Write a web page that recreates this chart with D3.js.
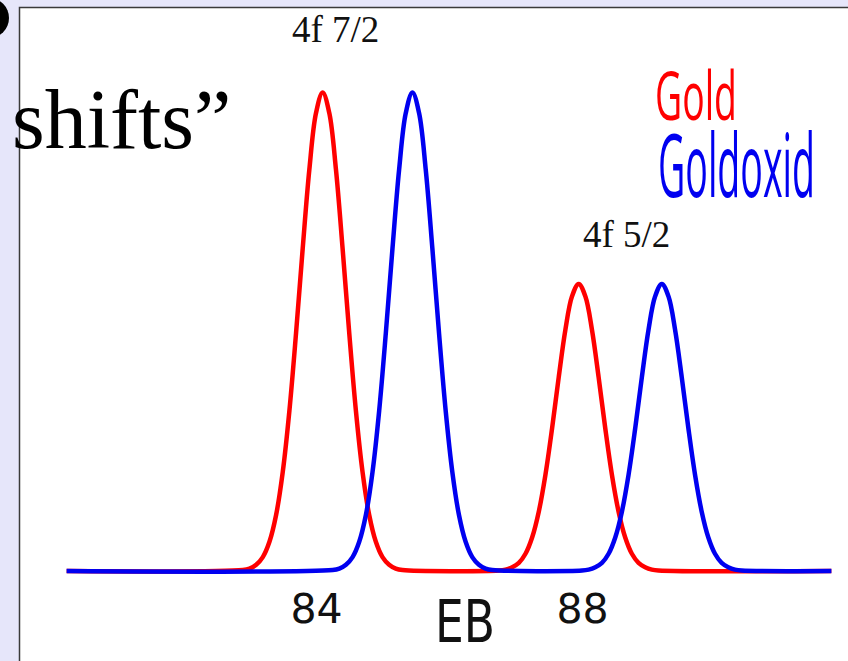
<!DOCTYPE html>
<html>
<head>
<meta charset="utf-8">
<script src="https://cdn.jsdelivr.net/npm/d3@7"></script>
<style>
  html, body { margin: 0; padding: 0; background: #e6e6fa; }
  svg { display: block; }
</style>
</head>
<body>
<svg id="chart" width="848" height="661"></svg>
<script>
// Binding energy (eV) sample points and intensities for each spectrum
const goldE = [80.25,
  82.9, 83.0, 83.1, 83.2, 83.3, 83.4, 83.5, 83.6, 83.7, 83.8, 83.9, 84.0, 84.1,
  84.2, 84.3, 84.4, 84.5, 84.6, 84.7, 84.8, 84.9, 85.0, 85.1, 85.2, 85.3,
  86.75, 86.85, 86.95, 87.05, 87.15, 87.25, 87.35, 87.45, 87.55, 87.65, 87.75, 87.85, 87.95,
  88.05, 88.15, 88.25, 88.35, 88.45, 88.55, 88.65, 88.75, 88.85, 88.95, 89.05, 89.15,
  91.75];
const goldI = [0,
  0.2, 0.5, 1.3, 2.9, 6.1, 11.7, 20.7, 33.5, 49.7, 67.4, 83.9, 95.7, 100,
  95.7, 83.9, 67.4, 49.7, 33.5, 20.7, 11.7, 6.1, 2.9, 1.3, 0.5, 0.2,
  0.1, 0.3, 0.8, 1.7, 3.6, 7.0, 12.4, 20.1, 29.8, 40.5, 50.4, 57.4, 60,
  57.4, 50.4, 40.5, 29.8, 20.1, 12.4, 7.0, 3.6, 1.7, 0.8, 0.3, 0.1,
  0];

const oxideE = [80.25,
  84.25, 84.35, 84.45, 84.55, 84.65, 84.75, 84.85, 84.95, 85.05, 85.15, 85.25, 85.35, 85.45,
  85.55, 85.65, 85.75, 85.85, 85.95, 86.05, 86.15, 86.25, 86.35, 86.45, 86.55, 86.65,
  88.0, 88.1, 88.2, 88.3, 88.4, 88.5, 88.6, 88.7, 88.8, 88.9, 89.0, 89.1, 89.2,
  89.3, 89.4, 89.5, 89.6, 89.7, 89.8, 89.9, 90.0, 90.1, 90.2, 90.3, 90.4,
  91.75];
const oxideI = [0,
  0.2, 0.5, 1.3, 2.9, 6.1, 11.7, 20.7, 33.5, 49.7, 67.4, 83.9, 95.7, 100,
  95.7, 83.9, 67.4, 49.7, 33.5, 20.7, 11.7, 6.1, 2.9, 1.3, 0.5, 0.2,
  0.1, 0.3, 0.8, 1.7, 3.6, 7.0, 12.4, 20.1, 29.8, 40.5, 50.4, 57.4, 60,
  57.4, 50.4, 40.5, 29.8, 20.1, 12.4, 7.0, 3.6, 1.7, 0.8, 0.3, 0.1,
  0];

const seriesNames = ["Gold", "Goldoxid"];
const seriesColors = ["#ff0000", "#0000f0"];
const tickValues = [84, 88];
const axisTitle = "EB";
const peakLabels = ["4f 7/2", "4f 5/2"];

const svg = d3.select("#chart");

// slide decoration: bullet dot and white content panel
svg.append("circle").attr("cx", -11).attr("cy", 18).attr("r", 20).attr("fill", "#000");
svg.append("rect")
  .attr("x", 19.5).attr("y", 7.5).attr("width", 900).attr("height", 700)
  .attr("fill", "#fff").attr("stroke", "#3a3a3a").attr("stroke-width", 1.5);

const x = d3.scaleLinear().domain([84, 88]).range([316, 582]);
const y = d3.scaleLinear().domain([0, 100]).range([571, 92.5]);

const line = d3.line()
  .x(d => x(d[0]))
  .y(d => y(d[1]))
  .curve(d3.curveCatmullRom.alpha(0.5));

const series = [
  { name: seriesNames[0], color: seriesColors[0], pts: d3.zip(goldE, goldI) },
  { name: seriesNames[1], color: seriesColors[1], pts: d3.zip(oxideE, oxideI) }
];

svg.selectAll("path.spec")
  .data(series)
  .join("path")
  .attr("class", "spec")
  .attr("d", d => line(d.pts))
  .attr("fill", "none")
  .attr("stroke", d => d.color)
  .attr("stroke-width", 4.5)
  .attr("stroke-linejoin", "round");

// energy axis: tick labels only
const axis = svg.append("g")
  .attr("transform", "translate(0,571)")
  .call(d3.axisBottom(x).tickValues(tickValues).tickSize(0).tickFormat(d3.format("d")));
axis.select(".domain").remove();
axis.selectAll(".tick text")
  .attr("y", 0).attr("dy", 0)
  .attr("transform", "translate(0,52)")
  .attr("font-family", "DejaVu Sans, sans-serif")
  .attr("font-size", 41)
  .attr("fill", "#111");

svg.append("text")
  .attr("x", 435).attr("y", 642)
  .attr("font-family", "DejaVu Sans, sans-serif")
  .attr("font-size", 58)
  .attr("textLength", 60).attr("lengthAdjust", "spacingAndGlyphs")
  .attr("fill", "#111")
  .text(axisTitle);

// peak annotations
const serif = "Liberation Serif, Times New Roman, serif";
svg.append("text").attr("x", 292).attr("y", 42)
  .attr("font-family", serif).attr("font-size", 37).attr("fill", "#111")
  .text(peakLabels[0]);
svg.append("text").attr("x", 583).attr("y", 247)
  .attr("font-family", serif).attr("font-size", 37).attr("fill", "#111")
  .text(peakLabels[1]);

// legend
svg.append("text").attr("x", 655).attr("y", 120)
  .attr("font-family", "Open Sans, sans-serif").attr("font-size", 67)
  .attr("textLength", 82).attr("lengthAdjust", "spacingAndGlyphs")
  .attr("fill", seriesColors[0]).text(seriesNames[0]);
svg.append("text").attr("x", 658).attr("y", 197)
  .attr("font-family", "Open Sans, sans-serif").attr("font-size", 87)
  .attr("textLength", 157).attr("lengthAdjust", "spacingAndGlyphs")
  .attr("fill", seriesColors[1]).text(seriesNames[1]);

// slide heading fragment
svg.append("text").attr("x", 12).attr("y", 148)
  .attr("font-family", serif).attr("font-size", 84).attr("fill", "#000")
  .text("shifts\u201D");
</script>
</body>
</html>
